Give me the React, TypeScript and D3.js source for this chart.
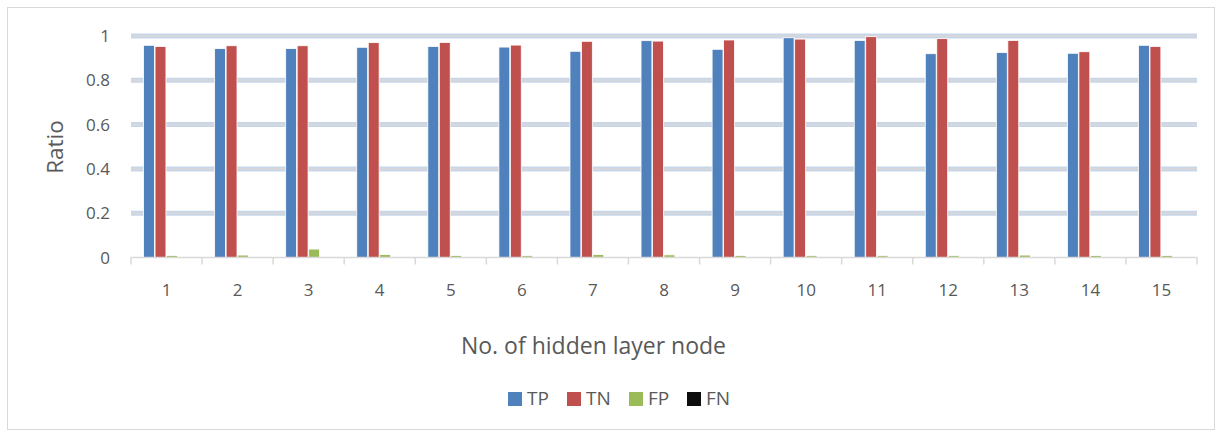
import React from "react";
import * as d3 from "d3";

const categories = ["1","2","3","4","5","6","7","8","9","10","11","12","13","14","15"];
const seriesNames = ["TP","TN","FP","FN"];
const tpValues = [0.958,0.943,0.943,0.949,0.953,0.950,0.931,0.979,0.940,0.992,0.980,0.920,0.925,0.922,0.958];
const tnValues = [0.953,0.956,0.956,0.970,0.971,0.959,0.976,0.977,0.982,0.986,0.997,0.988,0.980,0.929,0.953];
const fpValues = [0.009,0.011,0.038,0.013,0.009,0.008,0.013,0.012,0.009,0.008,0.008,0.008,0.011,0.009,0.009];
const fnValues = [0,0,0,0,0,0,0,0,0,0,0,0,0,0,0];
const yTicks = [0,0.2,0.4,0.6,0.8,1];
const colors = ["#4f81bd","#c0504d","#9bbb59","#0d0d0d"];

const W = 1223, H = 437;
const left = 131, right = 1197, top = 36, bottom = 257.5;
const font = "'Open Sans', sans-serif";

export default function App() {
  const allSeries = [tpValues, tnValues, fpValues, fnValues];
  const x = d3.scaleBand().domain(categories).range([left, right]);
  const slot = x.bandwidth() / (4 + 2.19);
  const x1 = d3.scaleBand().domain(seriesNames).range([0, slot * 4]);
  const y = d3.scaleLinear().domain([0, 1]).range([bottom, top]);
  const legendX = [508, 567, 629, 687];

  return (
    <svg width={W} height={H} style={{ position: "absolute", left: 0, top: 0, background: "#fff" }}>
      <rect x={7.5} y={7.5} width={1207} height={422} fill="#fff" stroke="#d9d9d9" strokeWidth={1} />
      {yTicks.filter(t => t > 0).map(t => (
        <g key={t}>
          <line x1={left} x2={right} y1={y(t)} y2={y(t)} stroke="#c6d6ea" strokeWidth={5} />
          <line x1={left} x2={right} y1={y(t)} y2={y(t)} stroke="#d4d8de" strokeWidth={2.5} />
        </g>
      ))}
      {yTicks.map(t => (
        <text key={"yl" + t} x={110} y={y(t)} dy="0.36em" textAnchor="end" fontFamily={font} fontSize={17} fill="#595959">{d3.format("")(t)}</text>
      ))}
      {categories.map((c, i) => {
        const gx = (x(c) as number) + (x.bandwidth() - slot * 4) / 2;
        return (
          <g key={c}>
            {allSeries.map((s, k) => {
              const v = s[i];
              if (v <= 0) return null;
              return (
                <rect key={k} x={gx + (x1(seriesNames[k]) as number)} y={y(v)} width={slot - 0.6} height={bottom - y(v)}
                  fill={colors[k]} stroke="#fff" strokeWidth={0.8} />
              );
            })}
          </g>
        );
      })}
      <line x1={left} x2={right} y1={bottom} y2={bottom} stroke="#d9d9d9" strokeWidth={1.5} />
      {categories.concat(["end"]).map((c, i) => {
        const tx = left + i * x.bandwidth();
        return <line key={"t" + i} x1={tx} x2={tx} y1={bottom} y2={bottom + 7} stroke="#d9d9d9" strokeWidth={1.5} />;
      })}
      {categories.map(c => (
        <text key={"xl" + c} x={(x(c) as number) + x.bandwidth() / 2} y={296} textAnchor="middle" fontFamily={font} fontSize={17} fill="#595959">{c}</text>
      ))}
      <text transform={`translate(63,147) rotate(-90)`} textAnchor="middle" fontFamily={font} fontSize={22.5} fill="#595959">Ratio</text>
      <text x={593.5} y={353.5} textAnchor="middle" fontFamily={font} fontSize={23} fill="#595959">No. of hidden layer node</text>
      {seriesNames.map((n, k) => (
        <g key={n}>
          <rect x={legendX[k]} y={392} width={14} height={14} fill={colors[k]} />
          <text x={legendX[k] + 19} y={405} fontFamily={font} fontSize={19} fill="#595959">{n}</text>
        </g>
      ))}
    </svg>
  );
}
